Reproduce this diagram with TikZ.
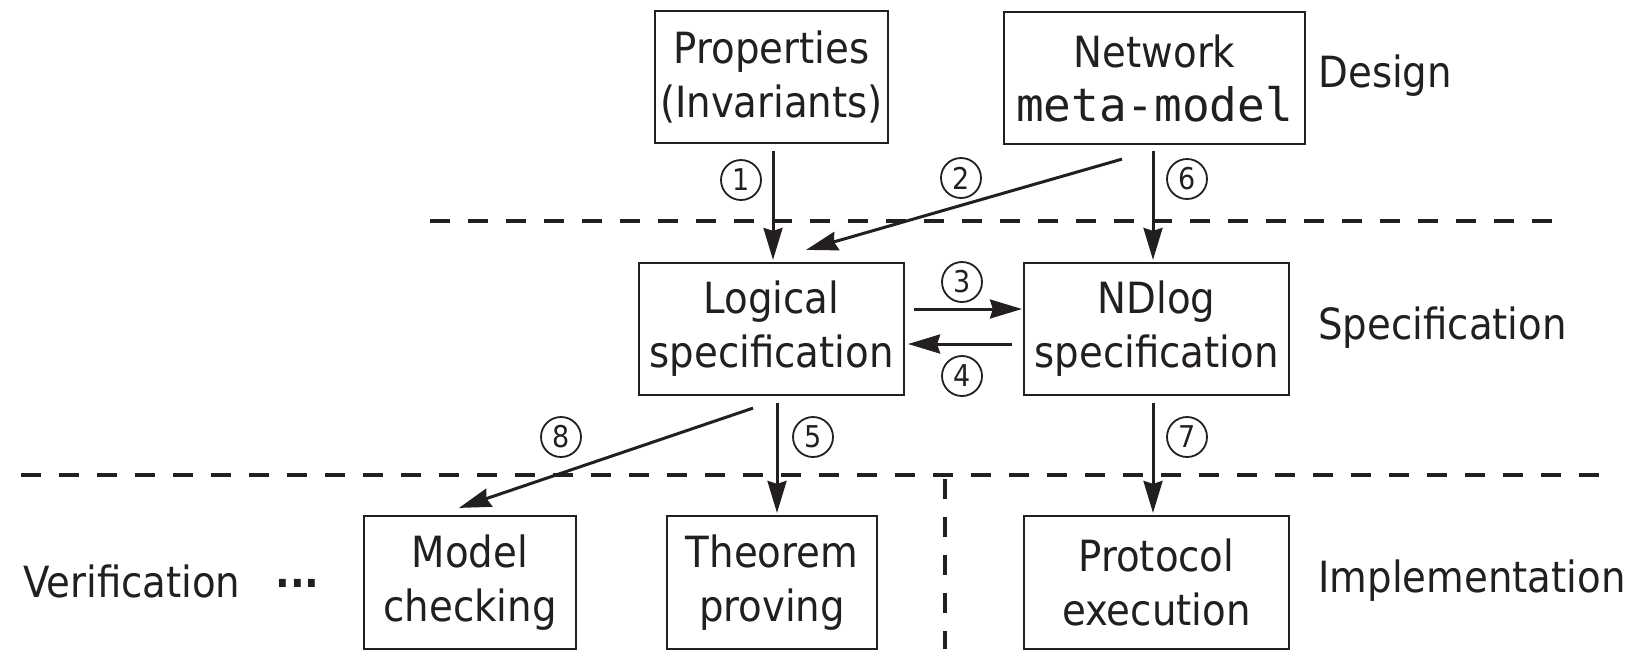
\documentclass[tikz,border=0pt]{standalone}
\usepackage{fontspec}
\setmainfont{DejaVu Sans Condensed}
\setmonofont{DejaVu Sans Mono}
\usetikzlibrary{arrows.meta,calc}
\definecolor{ink}{RGB}{35,31,32}
\begin{document}
\begin{tikzpicture}[x=0.5pt,y=-0.5pt,font=\fontsize{21.5}{27}\selectfont,
  box/.style={draw=ink,line width=1.1pt,align=center,inner sep=0pt,text=ink},
  arr/.style={draw=ink,line width=1.5pt,-{Stealth[length=16pt,width=9.5pt,inset=1.5pt]}},
  sep/.style={draw=ink,line width=1.7pt,dash pattern=on 10pt off 9pt},
  num/.style={circle,draw=ink,line width=0.9pt,minimum size=20pt,inner sep=0pt,
    font=\fontsize{15}{15}\selectfont,text=ink},
  lbl/.style={text=ink,inner sep=0pt,anchor=west}]
\useasboundingbox (0,0) rectangle (1626,666);
% boxes
\node[box,minimum width=116.5pt,minimum height=66pt] (prop) at (771.5,77) {Properties\\(Invariants)};
\node[box,minimum width=150.5pt,minimum height=66pt] (net) at (1154.5,78) {Network\\{\fontsize{23}{27}\selectfont\ttfamily meta-model}};
\node[box,minimum width=132.5pt,minimum height=66pt] (logic) at (771.5,329) {Logical\\specification};
\node[box,minimum width=132.5pt,minimum height=66pt] (ndlog) at (1156.5,329) {NDlog\\specification};
\node[box,minimum width=106pt,minimum height=66.5pt] (model) at (470,582.5) {Model\\checking};
\node[box,minimum width=105pt,minimum height=66.5pt] (theo) at (772,582.5) {Theorem\\proving};
\node[box,minimum width=132.5pt,minimum height=66.5pt] (proto) at (1156.5,582.5) {Protocol\\execution};
% layer labels
\node[lbl] (design) at (1318,76) {Design};
\node[lbl] (spec) at (1318,328) {Specification};
\node[lbl] (impl) at (1318,581) {Implementation};
\node[lbl] (verif) at (23,581) {Verification};
\node[lbl] (dots) at (275,583) {\textbf{...}};
% separators
\coordinate (s1a) at (430,221); \coordinate (s1b) at (1556,221);
\coordinate (s2a) at (21,475); \coordinate (s2b) at (1607,475);
\coordinate (s3a) at (945,479); \coordinate (s3b) at (945,649);
\draw[sep] (s1a) -- (s1b);
\draw[sep] (s2a) -- (s2b);
\draw[sep] (s3a) -- (s3b);
% arrows
\draw[arr] ($(prop.south)+(1.5,7)$) -- ($(logic.north)+(1.5,-2)$);
\draw[arr] ($(net.south)+(-32.5,14)$) -- ($(logic.north)+(34.5,-12)$);
\draw[arr] ($(net.south)+(-1.5,6)$) -- ($(ndlog.north)+(-3.5,-2)$);
\draw[arr] ($(logic.east)+(9,-20)$) -- ($(ndlog.west)+(-1,-20)$);
\draw[arr] ($(ndlog.west)+(-11,15)$) -- ($(logic.east)+(3,15)$);
\draw[arr] ($(logic.south)+(-18.5,12)$) -- ($(model.north)+(-11,-7)$);
\draw[arr] ($(logic.south)+(5.5,7)$) -- ($(theo.north)+(5,-2)$);
\draw[arr] ($(ndlog.south)+(-3.5,7)$) -- ($(proto.north)+(-3.5,-2)$);
% step numbers
\node[num] (n1) at (741,180) {1};
\node[num] (n2) at (961,178) {2};
\node[num] (n6) at (1187,179) {6};
\node[num] (n3) at (962,282) {3};
\node[num] (n4) at (962,376) {4};
\node[num] (n8) at (561,437) {8};
\node[num] (n5) at (813,437) {5};
\node[num] (n7) at (1187,437) {7};
\end{tikzpicture}
\end{document}
